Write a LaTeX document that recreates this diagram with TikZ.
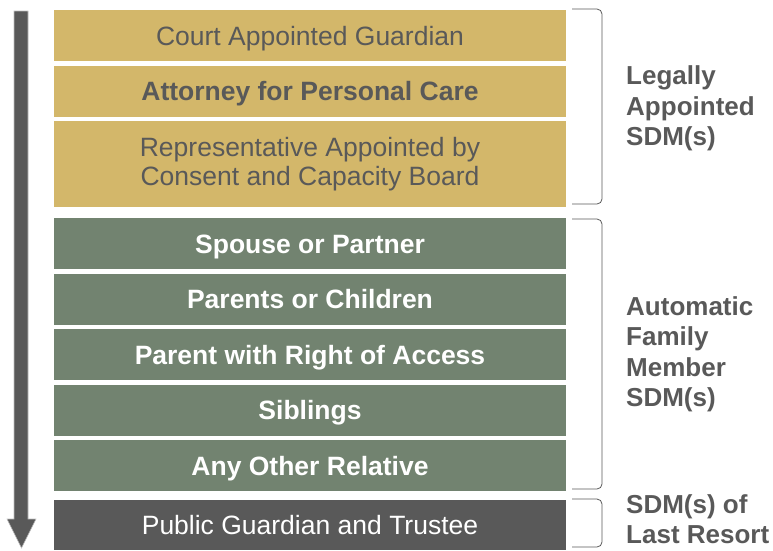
\documentclass[tikz,border=0pt]{standalone}
\usepackage{fontspec}
\setmainfont{Liberation Sans}
\usetikzlibrary{calc,positioning}
\definecolor{sdmgold}{RGB}{211,183,106}
\definecolor{sdmgreen}{RGB}{114,131,112}
\definecolor{sdmgrey}{RGB}{89,89,89}
\definecolor{sdmline}{RGB}{190,190,190}
\newcommand{\sdmfont}{\fontsize{26.5}{29}\selectfont}

\begin{document}
\begin{tikzpicture}[x=1pt,y=-1pt,
		box/.style={minimum width=512pt, minimum height=51pt, inner sep=0pt, outer sep=0pt, align=center, text height=19pt, text depth=0pt, font=\sdmfont},
		goldbox/.style={box, fill=sdmgold, text=sdmgrey},
		greenbox/.style={box, fill=sdmgreen, text=white, font=\sdmfont\bfseries},
		bracket/.style={draw=sdmgrey, line width=0.8pt, rounded corners=5pt},
		grouplabel/.style={anchor=west, align=left, inner sep=0pt, text=sdmgrey, font=\fontsize{26}{30.5}\selectfont\bfseries}]
		%%%%% START %%%%%
		
		\useasboundingbox (0,0) rectangle (773,550);
		
		% order arrow
		\draw[fill=sdmgrey, draw=sdmline, line width=0.6pt] (14,11) -- (28,11) -- (28,519) -- (36,519) -- (21.5,548) -- (7,519) -- (14,519) -- cycle;
		
		% legally appointed
		\node[goldbox, anchor=north west] (court) at (54,10) {Court Appointed Guardian};
		\node[goldbox, below=4.5pt of court, font=\sdmfont\bfseries] (attorney) {Attorney for Personal Care};
		\node[goldbox, below=4.5pt of attorney, minimum height=86pt, text height={}, text depth={}] (board) {Representative Appointed by\\Consent and Capacity Board};
		
		% family members
		\node[greenbox, below=11pt of board] (spouse) {Spouse or Partner};
		\node[greenbox, below=4.5pt of spouse] (parents) {Parents or Children};
		\node[greenbox, below=4.5pt of parents] (access) {Parent with Right of Access};
		\node[greenbox, below=4.5pt of access] (siblings) {Siblings};
		\node[greenbox, below=4.5pt of siblings] (relative) {Any Other Relative};
		
		% last resort
		\node[box, fill=sdmgrey, text=white, below=9pt of relative, minimum height=50pt] (trustee) {Public Guardian and Trustee};
		
		\draw[bracket] ($(court.north east)+(6,-1)$) -- ++(30,0) -- ($(board.south east)+(36,-3)$) -- ++(-30,0);
		\draw[bracket] ($(spouse.north east)+(6,1)$) -- ++(30,0) -- ($(relative.south east)+(36,-2)$) -- ++(-30,0);
		\draw[bracket] ($(trustee.north east)+(6,-1)$) -- ++(30,0) -- ($(trustee.south east)+(36,-3)$) -- ++(-30,0);
		
		\node[grouplabel] (legal) at ($(court.north east)!0.5!(board.south east)+(60,0)$) {Legally\\Appointed\\SDM(s)};
		\node[grouplabel] (family) at ($(spouse.north east)!0.5!(relative.south east)+(60,0)$) {Automatic\\Family\\Member\\SDM(s)};
		\node[grouplabel] (resort) at ($(trustee.east)+(60,-6)$) {SDM(s) of\\Last Resort};
		
		%%%%% END %%%%%
	\end{tikzpicture}
\end{document}
